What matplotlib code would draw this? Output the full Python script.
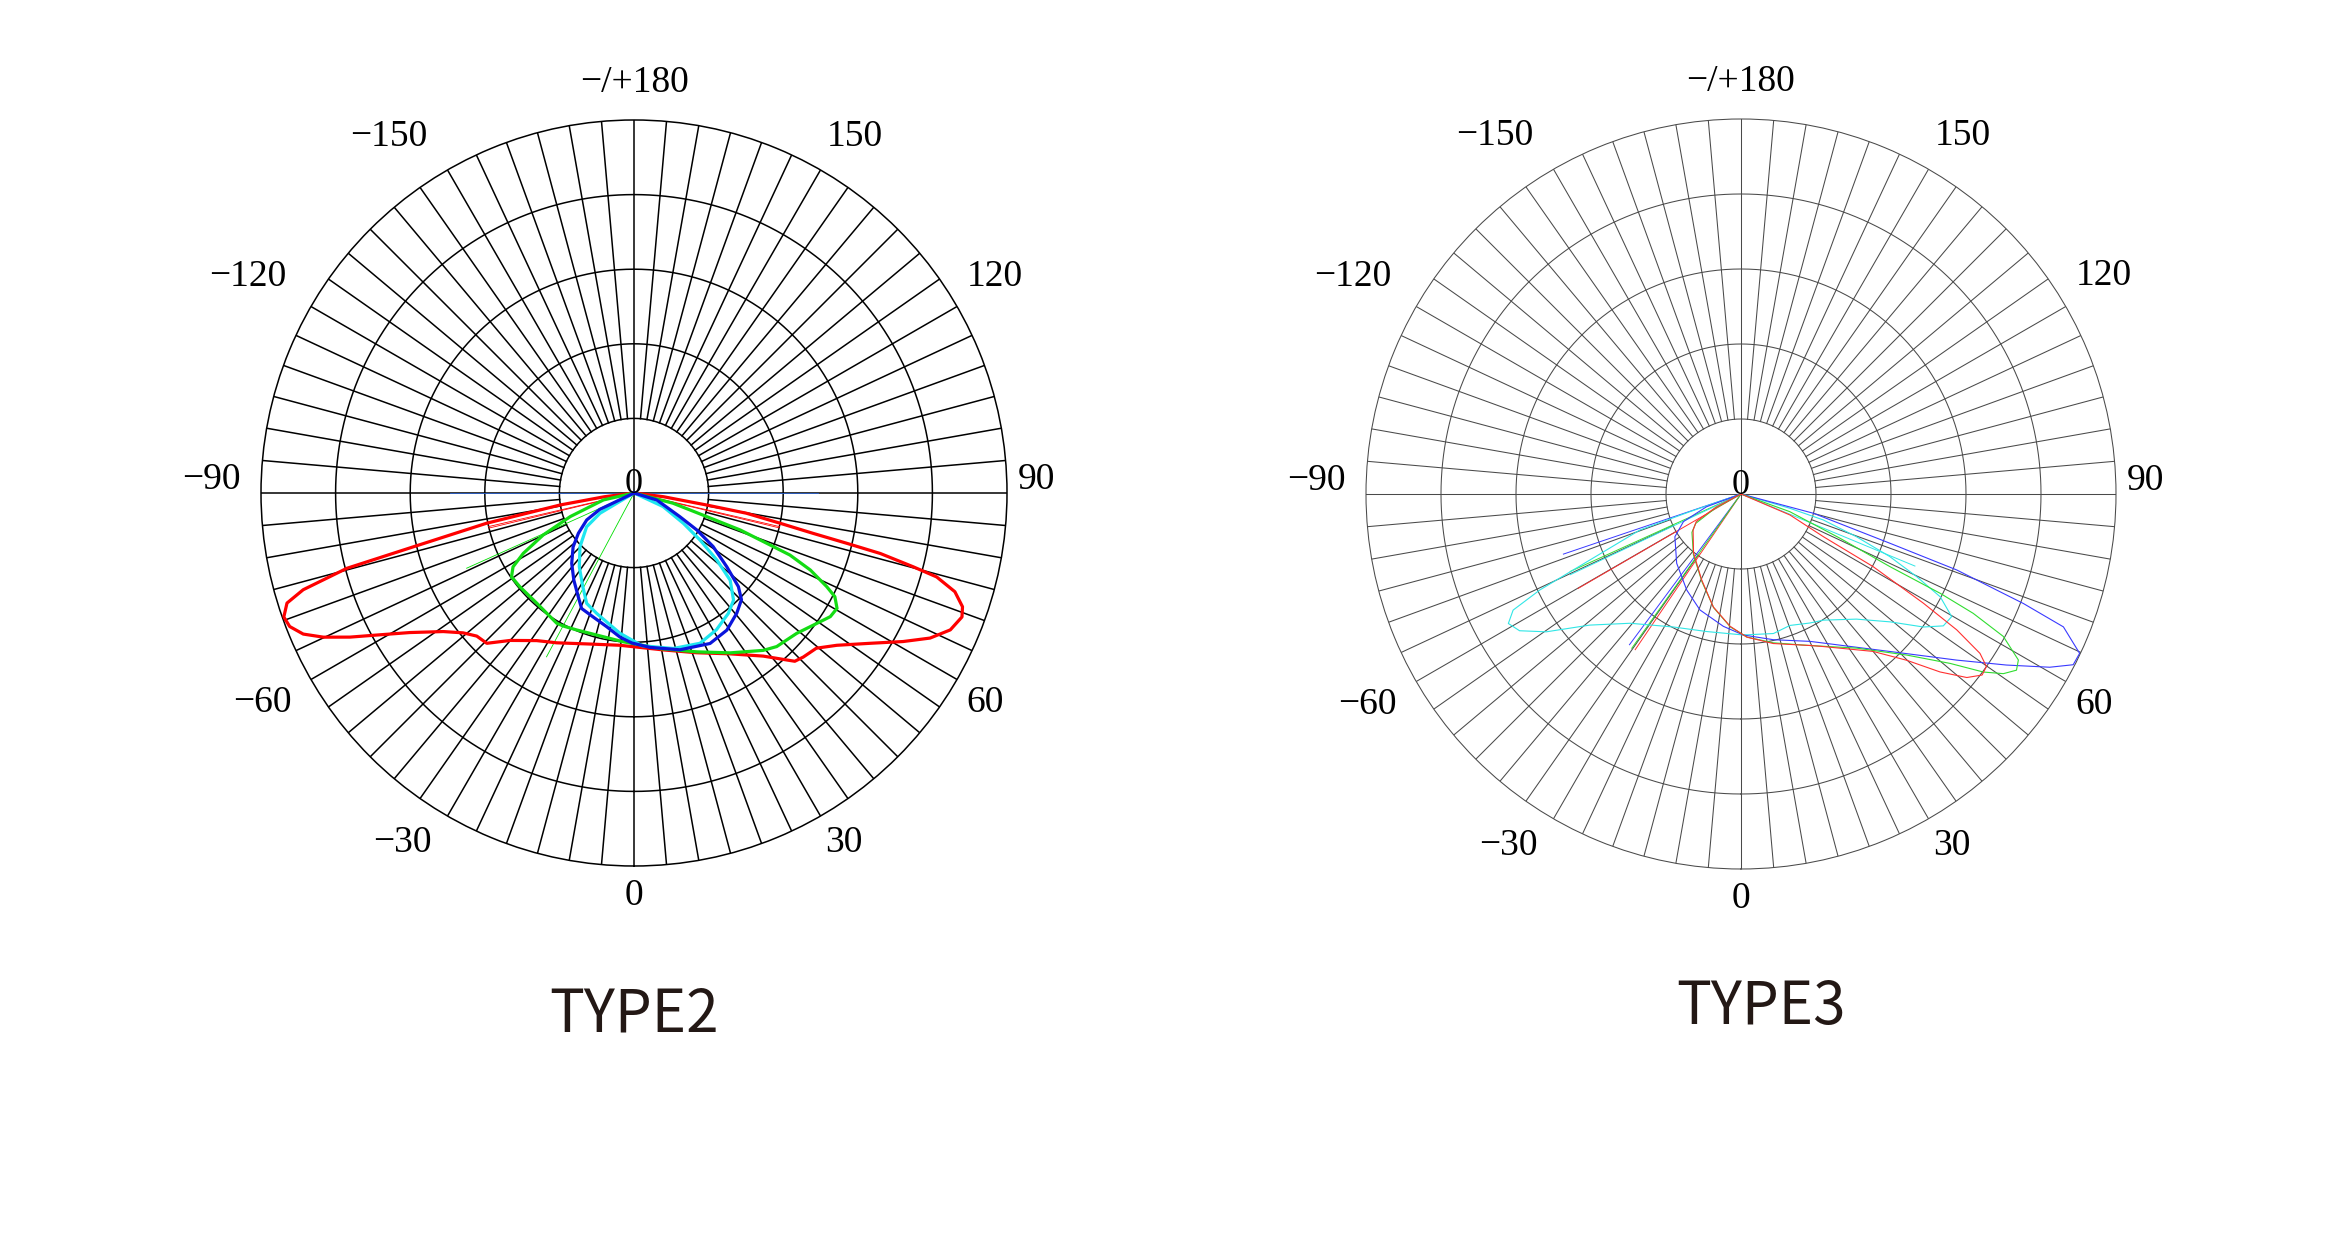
import numpy as np
import matplotlib
matplotlib.use("Agg")
import matplotlib.pyplot as plt

# ---- datos (angulo en grados, r en anillos 0..5) ----
label_ang = [0, 30, 60, 90, 120, 150, 180, -150, -120, -90, -60, -30]
label_txt = ['0', '30', '60', '90', '120', '150', '\u2212/+180',
             '\u2212150', '\u2212120', '\u221290', '\u221260', '\u221230']

# TYPE2
t2_red_deg = [-90, -82.8, -80.8, -78.4, -76.3, -75.3, -73.7, -72.4, -70.5, -68.8, -66.9, -65.1,
              -63.1, -61.1, -58.1, -54.0, -50.7, -47.7, -44.4, -40.0, -33.4, -27.3, -17.4, -5.3,
              10.6, 21.4, 30.8, 38.4, 42.4, 43.7, 45.9, 49.6, 53.1, 57.5, 61.1, 63.9, 66.6,
              69.3, 70.9, 72.9, 74.5, 75.2, 76.2, 76.7, 77.3, 78.3, 79.8, 80.6, 82.8, 90]
t2_red_r = [0, 0.40, 1.00, 2.02, 3.04, 3.98, 4.62, 4.88, 4.98, 4.95, 4.82, 4.59,
            4.27, 3.94, 3.54, 3.16, 2.96, 2.85, 2.82, 2.58, 2.37, 2.26, 2.12, 2.05,
            2.14, 2.30, 2.51, 2.79, 3.03, 3.12, 3.16, 3.21, 3.40, 3.75, 4.12, 4.42, 4.62,
            4.70, 4.66, 4.50, 4.21, 3.87, 3.40, 2.93, 2.46, 2.00, 1.53, 0.99, 0.40, 0]

t2_green_deg = [-90, -77.2, -69.7, -65.2, -61.4, -58.6, -55.6, -50.6, -41.4, -30.7, -28.0,
                -22.7, -12.1, -4.1, 10.0, 21.6, 31.0, 39.4, 42.9, 49.2, 54.5, 57.8, 60.4,
                62.7, 64.1, 66.4, 68.3, 69.1, 70.8, 72.0, 75.3, 90]
t2_green_r = [0, 0.42, 0.91, 1.34, 1.69, 1.90, 1.99, 1.98, 1.97, 2.03, 2.02,
              1.99, 1.97, 2.00, 2.12, 2.29, 2.50, 2.73, 2.81, 2.88, 3.01, 3.11, 3.13,
              3.03, 2.87, 2.58, 2.25, 1.95, 1.51, 1.03, 0.54, 0]

t2_blue_deg = [-75, -64.4, -60.3, -54.1, -48.5, -41.5, -34.6, -28.2, -24.4, -18.2, -11.5,
               -5.6, -0.9, 5.9, 16.3, 26.8, 34.1, 40.5, 45.2, 48.1, 51.5, 55.9, 59.5,
               62.7, 72.9, 80]
t2_blue_r = [0, 0.51, 0.73, 0.92, 1.09, 1.26, 1.42, 1.58, 1.70, 1.75, 1.83,
             1.94, 2.01, 2.08, 2.19, 2.26, 2.22, 2.12, 2.03, 1.88, 1.59, 1.28, 0.98,
             0.69, 0.32, 0]

t2_cyan_deg = [-70, -59.2, -54.5, -45.2, -36.6, -28.7, -23.2, -17.2, -11.2, -5.7, 3.0,
               14.2, 23.7, 31.1, 38.1, 42.9, 47.8, 51.0, 54.5, 58.4, 65.0, 75]
t2_cyan_r = [0, 0.53, 0.78, 1.02, 1.23, 1.43, 1.61, 1.69, 1.78, 1.89, 2.05,
             2.15, 2.20, 2.14, 2.05, 1.96, 1.74, 1.43, 1.09, 0.78, 0.43, 0]

t2_rays = [(-65.8, 2.46, '#00dd00'), (-28.1, 2.49, '#00dd00'),
           (-77.0, 2.0, '#ff0000'), (-76.4, 2.0, '#ff0000'),
           (77.0, 2.0, '#ff0000'), (76.5, 2.0, '#ff0000'),
           (90, 2.47, '#2a62d0'), (-90, 2.47, '#2a62d0')]

# TYPE3
t3_red_deg = [-65, -62.4, -58.4, -53.0, -38.8, -24.6, -13.8, -4.7, 2.3, 12.2, 24.5, 28.3,
              40.0, 44.9, 48.2, 50.9, 53.1, 54.9, 56.3, 57.8, 59.1, 61.2, 62.6, 66.8, 72]
t3_red_r = [0, 0.37, 0.70, 0.80, 1.01, 1.26, 1.55, 1.77, 1.91, 2.04, 2.22, 2.31,
            2.74, 3.13, 3.56, 3.88, 4.02, 4.00, 3.83, 3.40, 2.83, 2.01, 1.24, 0.71, 0]

t3_green_deg = [-66, -61, -57, -52, -38, -24, -13.5, -4.5, 2.5, 12.2, 23.5, 36.9, 45.8,
                51.0, 53.7, 55.6, 57.4, 59.1, 61.5, 62.8, 63.5, 64.0, 65.9, 70.1, 75]
t3_green_r = [0, 0.40, 0.72, 0.83, 1.03, 1.28, 1.56, 1.78, 1.91, 2.03, 2.20, 2.57, 3.08,
              3.59, 4.01, 4.24, 4.36, 4.31, 3.98, 3.48, 2.97, 2.21, 1.45, 0.69, 0]

t3_blue_deg = [-75, -69.7, -64.4, -57.1, -42.9, -29.5, -19.5, -7.6, 0.9, 12.5, 25.1, 28.9,
               43.4, 52.4, 57.2, 60.7, 62.8, 64.8, 67.6, 68.8, 70.6, 71.7, 75.1, 80]
t3_blue_r = [0, 0.49, 0.85, 1.05, 1.26, 1.47, 1.64, 1.78, 1.88, 1.99, 2.17, 2.27,
             2.89, 3.63, 4.21, 4.72, 4.98, 4.99, 4.65, 4.04, 3.05, 2.09, 1.00, 0]

t3_cyan_deg = [-75, -70.9, -70.4, -66.4, -64.5, -63.0, -60.9, -58.3, -54.7, -49.1, -40.6,
               -27.0, -14.0, 0.9, 13.1, 20.4, 28.1, 33.2, 42.7, 49.4, 53.9, 56.9, 59.8,
               62.7, 64.8, 67.2, 69.7, 72.5, 73.7, 78]
t3_cyan_r = [0, 0.72, 1.43, 2.20, 2.97, 3.41, 3.55, 3.47, 3.18, 2.67, 2.27,
             1.99, 1.89, 1.88, 1.91, 1.87, 1.95, 2.01, 2.27, 2.62, 3.01, 3.22, 3.25,
             2.99, 2.59, 2.15, 1.64, 1.15, 0.68, 0]

t3_rays = [(-71.3, 2.5, '#3a3aff'), (-36.5, 2.5, '#3a3aff'),
           (-59.9, 2.51, '#ff3030'), (-34.2, 2.51, '#ff3030'),
           (-65.6, 2.5, '#30dd30'), (-35.3, 2.52, '#30dd30'),
           (-64.7, 2.52, '#30e6e6'), (67.5, 2.51, '#30e6e6')]


def Rejilla(ax, color, lw):
    # rejilla polar: anillos, radios cada 5 grados y contorno
    ax.set_theta_zero_location('S')
    ax.set_theta_direction(1)
    ax.set_ylim(0, 5)
    ax.grid(False)
    ax.set_xticks([]); ax.set_yticks([])
    ax.spines['polar'].set_color(color)
    ax.spines['polar'].set_linewidth(lw)
    full = np.linspace(0, 2 * np.pi, 721)
    for rr in [1, 2, 3, 4]:
        ax.plot(full, np.full_like(full, rr), color=color, lw=lw, zorder=1)
    for a in range(0, 360, 5):
        t = np.radians(a)
        r0 = 0 if a % 90 == 0 else 1
        ax.plot([t, t], [r0, 5], color=color, lw=lw, zorder=1)


def Etiquetas(ax):
    # posicion (angulo, radio) de cada etiqueta, medida en la imagen
    pos = {0: (0, 5.4), 30: (31, 5.47), 60: (59.2, 5.48), 90: (91.85, 5.4),
           120: (121, 5.64), 150: (148.2, 5.62), 180: (180, 5.5),
           -150: (-145.5, 5.8), -120: (-119.3, 5.93), -90: (-91.75, 5.67),
           -60: (-60.6, 5.72), -30: (-33.5, 5.63)}
    for a, txt in zip(label_ang, label_txt):
        th, rr = pos[a]
        ax.text(np.radians(th), rr, txt, ha='center', va='center',
                fontsize=27, family='Liberation Serif', color='black')
    ax.text(0, 0, '0', ha='center', va='baseline', fontsize=26,
            family='Liberation Serif', color='black', zorder=6)


def Curva(ax, deg, r, color, lw):
    ax.plot(np.radians(deg), r, color=color, lw=lw, zorder=4)


fig = plt.figure(figsize=(23.52, 12.48), dpi=100)
fig.patch.set_facecolor('white')

ax1 = fig.add_axes([0.11097, 0.30609, 0.31718, 0.59776], projection='polar')
Rejilla(ax1, 'black', 1.1)
for th, rr, c in t2_rays:
    ax1.plot([np.radians(th)] * 2, [0, rr], color=c, lw=0.6, zorder=3)
Curva(ax1, t2_red_deg, t2_red_r, '#ff0000', 2.3)
Curva(ax1, t2_green_deg, t2_green_r, '#14dc14', 2.3)
Curva(ax1, t2_cyan_deg, t2_cyan_r, '#1ee6f0', 2.3)
Curva(ax1, t2_blue_deg, t2_blue_r, '#0a14dc', 2.3)
Etiquetas(ax1)

ax2 = fig.add_axes([0.58078, 0.30369, 0.31888, 0.60096], projection='polar')
Rejilla(ax2, '#4a4a4a', 0.75)
for th, rr, c in t3_rays:
    ax2.plot([np.radians(th)] * 2, [0, rr], color=c, lw=0.7, zorder=3)
Curva(ax2, t3_cyan_deg, t3_cyan_r, '#30e6e6', 0.8)
Curva(ax2, t3_blue_deg, t3_blue_r, '#3a3aff', 0.8)
Curva(ax2, t3_green_deg, t3_green_r, '#30dd30', 0.8)
Curva(ax2, t3_red_deg, t3_red_r, '#ff3030', 0.8)
Etiquetas(ax2)

fig.text(634 / 2352, 1 - 1031 / 1248, 'TYPE2', ha='center', va='baseline', fontsize=42,
         family='Noto Sans CJK SC', color='#231815')
fig.text(1761 / 2352, 1 - 1024 / 1248, 'TYPE3', ha='center', va='baseline', fontsize=42,
         family='Noto Sans CJK SC', color='#231815')

fig.savefig('out.png', dpi=100, facecolor='white')
